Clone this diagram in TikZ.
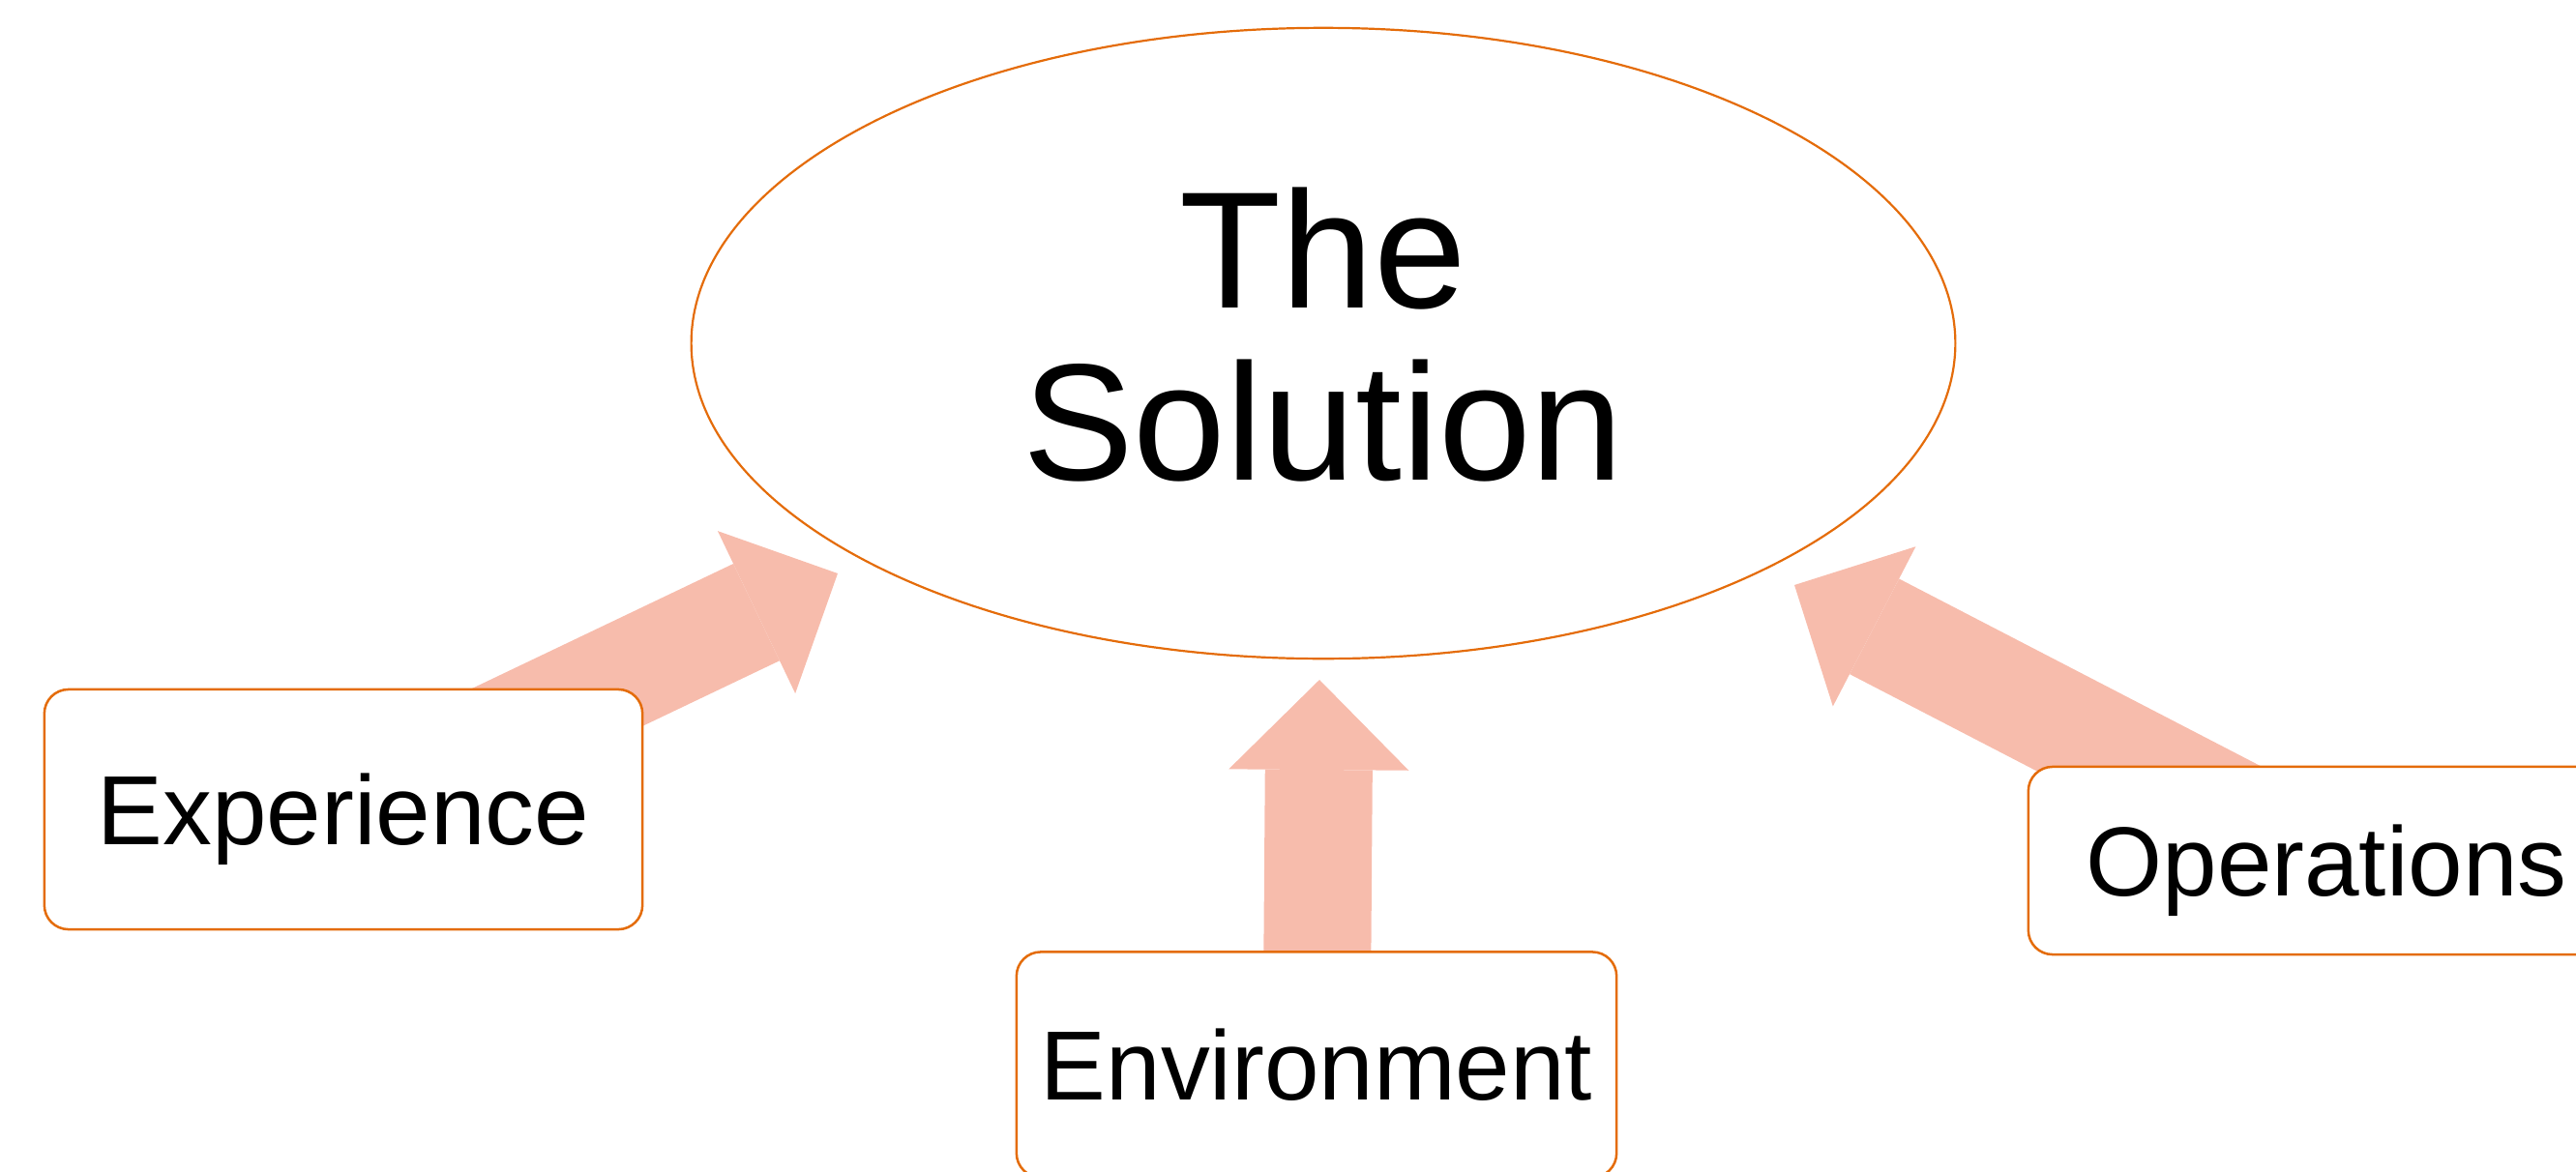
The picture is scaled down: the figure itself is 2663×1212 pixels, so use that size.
\documentclass[tikz,border=0pt]{standalone}
\usepackage{fontspec}
\setmainfont{Liberation Sans}
\usetikzlibrary{shapes.geometric,arrows.meta,backgrounds}
\definecolor{edgeorange}{HTML}{E46C0A}
\definecolor{fatsalmon}{HTML}{F7BCAC}
\begin{document}
\begin{tikzpicture}[x=0.01cm,y=-0.01cm,
 box/.style={draw=edgeorange, line width=0.025cm, fill=white, rounded corners=0.25cm, inner sep=0pt,
   font=\fontsize{28.9}{34}\selectfont, text height=20.7pt, text depth=0pt},
 fatarrow/.style={draw=fatsalmon, line width=1.11cm,
   -{Triangle[length=0.93cm,width=1.86cm,line width=0pt]}}]
\useasboundingbox (0,0) rectangle (2663,1212);
\node[draw=edgeorange, line width=0.022cm, ellipse, minimum width=13.06cm, minimum height=6.52cm,
  inner sep=0pt, align=center, font=\fontsize{48.9}{50.6}\selectfont, text depth=0.2cm]
  (sol) at (1368,355) {The\\Solution};
\node[box, minimum width=6.18cm, minimum height=2.48cm] (exp) at (355,837) {Experience};
\node[box, minimum width=6.20cm, minimum height=2.33cm] (env) at (1361,1101) {Environment};
\node[box, minimum width=6.16cm, minimum height=1.94cm] (ops) at (2405,890) {Operations};
\coordinate (exptip) at (866,593);
\coordinate (envtip) at (1364,703);
\coordinate (opstip) at (1855,605);
\begin{scope}[on background layer]
\draw[fatarrow] (exp.center) -- (exptip);
\draw[fatarrow] (env.center) -- (envtip);
\draw[fatarrow] (ops.center) -- (opstip);
\end{scope}
\end{tikzpicture}
\end{document}
